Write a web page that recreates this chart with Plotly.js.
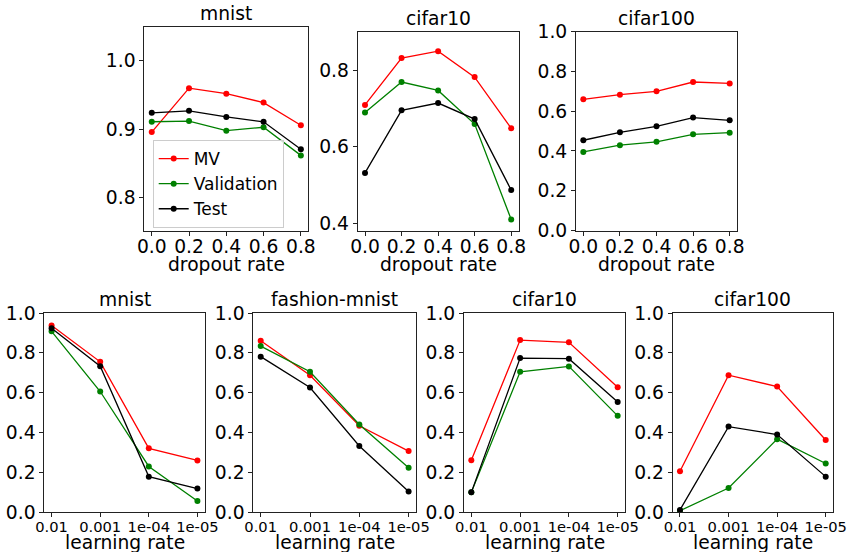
<!DOCTYPE html>
<html>
<head>
<meta charset="utf-8">
<script src="https://cdn.plot.ly/plotly-3.0.1.min.js"></script>
<style>html,body{margin:0;padding:0;background:#fff;}#chart{width:848px;height:552px;}</style>
</head>
<body>
<div id="chart"></div>
<script>
// ---- data ----
const dropoutRates = [0.0, 0.2, 0.4, 0.6, 0.8];
const learningRates = ['0.01', '0.001', '1e-04', '1e-05'];
const seriesNames = ['MV', 'Validation', 'Test'];

const mnistDropMV   = [0.896, 0.960, 0.952, 0.939, 0.906];
const mnistDropVal  = [0.911, 0.912, 0.898, 0.903, 0.862];
const mnistDropTest = [0.924, 0.927, 0.918, 0.911, 0.871];

const cifar10DropMV   = [0.710, 0.833, 0.851, 0.783, 0.649];
const cifar10DropVal  = [0.690, 0.770, 0.748, 0.660, 0.410];
const cifar10DropTest = [0.532, 0.696, 0.715, 0.673, 0.487];

const cifar100DropMV   = [0.660, 0.683, 0.700, 0.747, 0.740];
const cifar100DropVal  = [0.395, 0.429, 0.446, 0.484, 0.492];
const cifar100DropTest = [0.454, 0.494, 0.524, 0.568, 0.554];

const mnistLrMV   = [0.937, 0.755, 0.321, 0.260];
const mnistLrVal  = [0.908, 0.606, 0.230, 0.057];
const mnistLrTest = [0.923, 0.733, 0.179, 0.119];

const fashionLrMV   = [0.861, 0.688, 0.434, 0.307];
const fashionLrVal  = [0.834, 0.705, 0.441, 0.224];
const fashionLrTest = [0.781, 0.626, 0.333, 0.104];

const cifar10LrMV   = [0.261, 0.864, 0.853, 0.627];
const cifar10LrVal  = [0.100, 0.705, 0.732, 0.484];
const cifar10LrTest = [0.100, 0.774, 0.771, 0.553];

const cifar100LrMV   = [0.206, 0.688, 0.631, 0.363];
const cifar100LrVal  = [0.008, 0.122, 0.367, 0.245];
const cifar100LrTest = [0.012, 0.430, 0.390, 0.179];

// ---- panels ----
const W = 848, H = 552;
const colors = ['#ff0000', '#008000', '#000000'];
const FONT = '"DejaVu Sans", sans-serif';
const BIG = 18.7, SMALL = 14.7;

const panels = [
  {title: 'mnist', x: dropoutRates, series: [mnistDropMV, mnistDropVal, mnistDropTest], xl: 'dropout rate',
   px: [144.3, 308.3], py: [26.7, 230.5], yr: [0.7525, 1.0496], dtick: 0.1, top: true},
  {title: 'cifar10', x: dropoutRates, series: [cifar10DropMV, cifar10DropVal, cifar10DropTest], xl: 'dropout rate',
   px: [357.7, 518.5], py: [31.7, 230.5], yr: [0.381, 0.902], dtick: 0.2, top: true},
  {title: 'cifar100', x: dropoutRates, series: [cifar100DropMV, cifar100DropVal, cifar100DropTest], xl: 'dropout rate',
   px: [576, 737], py: [31.7, 230.5], yr: [0, 1], dtick: 0.2, top: true},
  {title: 'mnist', x: learningRates, series: [mnistLrMV, mnistLrVal, mnistLrTest], xl: 'learning rate',
   px: [44.3, 204.7], py: [313, 512.3], yr: [0, 1], dtick: 0.2, top: false},
  {title: 'fashion-mnist', x: learningRates, series: [fashionLrMV, fashionLrVal, fashionLrTest], xl: 'learning rate',
   px: [253.3, 416], py: [313, 512.3], yr: [0, 1], dtick: 0.2, top: false},
  {title: 'cifar10', x: learningRates, series: [cifar10LrMV, cifar10LrVal, cifar10LrTest], xl: 'learning rate',
   px: [464, 625], py: [313, 512.3], yr: [0, 1], dtick: 0.2, top: false},
  {title: 'cifar100', x: learningRates, series: [cifar100LrMV, cifar100LrVal, cifar100LrTest], xl: 'learning rate',
   px: [672.7, 833], py: [313, 512.3], yr: [0, 1], dtick: 0.2, top: false}
];

const traces = [];
const layout = {
  width: W, height: H,
  margin: {l: 0, r: 0, t: 0, b: 0},
  paper_bgcolor: '#fff', plot_bgcolor: '#fff',
  font: {family: FONT, size: BIG, color: '#000'},
  showlegend: true,
  legend: {
    x: 152.7 / W, y: 1 - 140 / H, xanchor: 'left', yanchor: 'top',
    bgcolor: 'rgba(255,255,255,0.8)', bordercolor: '#cccccc', borderwidth: 1,
    font: {family: FONT, size: 17, color: '#000'}
  },
  annotations: []
};

panels.forEach((p, i) => {
  const n = i + 1;
  const xa = 'xaxis' + (n === 1 ? '' : n), ya = 'yaxis' + (n === 1 ? '' : n);
  const xr = 'x' + (n === 1 ? '' : n), yr = 'y' + (n === 1 ? '' : n);
  p.series.forEach((s, k) => {
    traces.push({
      type: 'scatter', mode: 'lines+markers', x: p.x, y: s,
      xaxis: xr, yaxis: yr, name: seriesNames[k],
      showlegend: i === 0,
      line: {color: colors[k], width: 1.3},
      marker: {color: colors[k], size: 6}
    });
  });
  const common = {
    showline: true, mirror: true, linecolor: '#222', linewidth: 1,
    showgrid: false, zeroline: false, ticks: 'outside', ticklen: 4, tickwidth: 1, tickcolor: '#222',
    fixedrange: true
  };
  layout[xa] = Object.assign({}, common, {
    domain: [p.px[0] / W, p.px[1] / W], anchor: yr,
    tickfont: {family: FONT, size: p.top ? BIG : SMALL},
  }, p.top ? {type: 'linear', range: [-0.04, 0.84], tickvals: dropoutRates, tickformat: '.1f', ticklabelstandoff: -5}
           : {type: 'category', range: [-0.15, 3.15], ticklabelstandoff: -3});
  layout[ya] = Object.assign({}, common, {
    domain: [1 - p.py[1] / H, 1 - p.py[0] / H], anchor: xr,
    range: p.yr, dtick: p.dtick, tick0: 0, tickformat: '.1f',
    tickfont: {family: FONT, size: BIG}
  });
  // subplot title
  layout.annotations.push({
    text: p.title, xref: 'paper', yref: 'paper',
    x: (p.px[0] + p.px[1]) / 2 / W, y: 1 - p.py[0] / H,
    xanchor: 'center', yanchor: 'bottom', yshift: 1, showarrow: false,
    font: {family: FONT, size: BIG, color: '#000'}
  });
  // x-axis title
  layout.annotations.push({
    text: p.xl, xref: 'paper', yref: 'paper',
    x: (p.px[0] + p.px[1]) / 2 / W, y: 1 - (p.top ? 264.5 : 542.5) / H,
    xanchor: 'center', yanchor: 'middle', showarrow: false,
    font: {family: FONT, size: BIG, color: '#000'}
  });
});

Plotly.newPlot('chart', traces, layout, {displayModeBar: false, staticPlot: true});
</script>
</body>
</html>
